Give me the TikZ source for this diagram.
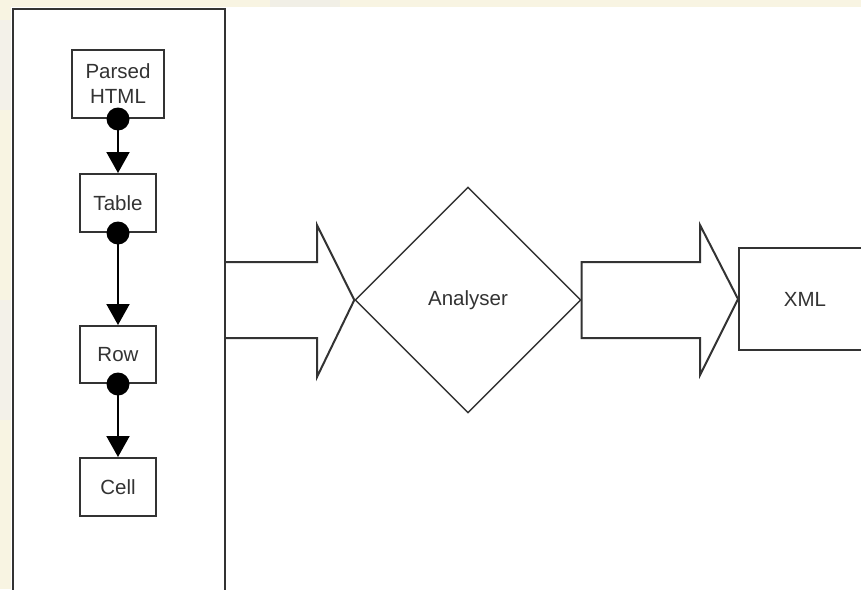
\documentclass[tikz,border=0pt]{standalone}
\usepackage{fontspec}
\setmainfont{Liberation Sans}
\usetikzlibrary{arrows.meta,shapes.geometric}
\definecolor{ink}{HTML}{333333}
\definecolor{cream}{HTML}{F8F4E2}
\begin{document}
\begin{tikzpicture}[x=1pt,y=-1pt,
  lbl/.style={font=\fontsize{20.5}{25}\selectfont,text=ink,align=center,inner sep=0pt},
  boxnode/.style={lbl,draw=ink,line width=2pt,fill=white,minimum width=76pt,minimum height=58pt},
  dotnode/.style={circle,fill=black,inner sep=0pt,minimum size=23pt},
  flow/.style={draw=black,line width=2pt,-{Triangle[length=21pt,width=23pt]}},
  bigarrow/.style={draw=ink,line width=2pt,line join=miter,fill=white}]
\useasboundingbox (0,0) rectangle (861,589);
\clip (0,0) rectangle (861,589);
% background
\fill[cream] (0,0) rectangle (861,589);
\fill[white] (11,7) rectangle (861,589);
\fill[black!8,opacity=0.5] (270,0) rectangle (340,7);
\fill[black!6,opacity=0.5] (0,300) rectangle (11,420);
\fill[black!6,opacity=0.5] (0,20) rectangle (11,110);
% container
\node[draw=ink,line width=2.2pt,minimum width=212pt,minimum height=600pt,anchor=north west,inner sep=0pt] (container) at (12,8) {};
% inner boxes
\node[boxnode,minimum width=92pt,minimum height=68pt] (html) at (118,84) {Parsed\\HTML};
\node[boxnode] (table) at (118,203) {Table};
\node[boxnode,minimum height=57pt] (row) at (118,354.5) {Row};
\node[boxnode] (cell) at (118,487) {Cell};
\node[dotnode] (d1) at (html.south) {};
\node[dotnode] (d2) at (table.south) {};
\node[dotnode] (d3) at (row.south) {};
\draw[flow] (d1.center) -- (table.north);
\draw[flow] (d2.center) -- (row.north);
\draw[flow] (d3.center) -- (cell.north);
% analyser
\node[diamond,draw=ink,line width=1.4pt,minimum width=226pt,minimum height=226pt,inner sep=0pt,lbl] (an) at (468,300) {Analyser};
% xml
\node[lbl,draw=ink,line width=2pt,minimum width=140pt,minimum height=102pt,anchor=west] (xml) at (738,299) {};
\node[lbl] (xmltext) at (805,299) {XML};
% big arrows
\draw[bigarrow] (container.east |- 0,262) -- (317,262) -- (317,225) -- (an.west) -- (317,377) -- (317,338) -- (container.east |- 0,338);
\draw[bigarrow] (an.east |- 0,262) -- (700,262) -- (700,225) -- (xml.west) -- (700,375) -- (700,338) -- (an.east |- 0,338) -- cycle;
\end{tikzpicture}
\end{document}
